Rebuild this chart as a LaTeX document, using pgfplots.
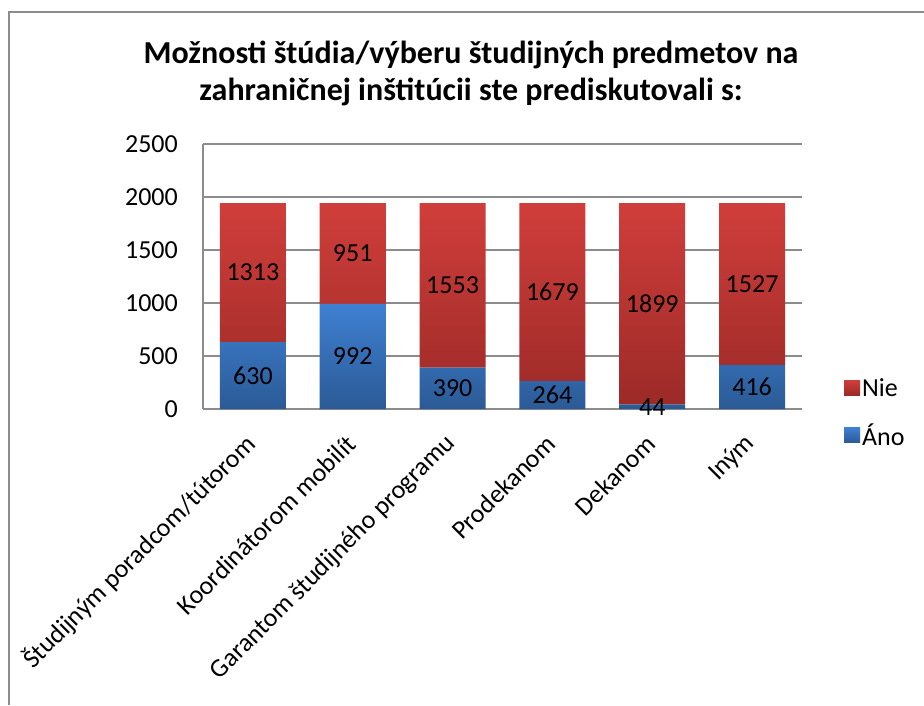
\documentclass[border=0pt]{standalone}
\usepackage{fontspec}
\setmainfont{Carlito}
\usepackage{pgfplots}
\pgfplotsset{compat=1.18}
\definecolor{redtop}{HTML}{D03E3B}
\definecolor{redbot}{HTML}{9C2A27}
\definecolor{bluetop}{HTML}{3F80D2}
\definecolor{bluebot}{HTML}{2B5A96}
\definecolor{gridgray}{HTML}{8C8C8C}
\begin{document}
\begin{tikzpicture}[x=1pt,y=1pt]
\useasboundingbox (0,0) rectangle (924,-705);
\draw[gridgray, line width=2pt] (9,-705) -- (9,-12) -- (924,-12);
\node[font=\fontsize{32}{37}\selectfont\bfseries, align=center, anchor=base] at (471,-100)
  {Možnosti štúdia/výberu študijných predmetov na\\zahraničnej inštitúcii ste prediskutovali s:};
\begin{axis}[
  at={(203pt,-409pt)}, anchor=south west,
  scale only axis, width=599pt, height=265pt,
  ybar stacked, bar width=66pt,
  xmin=-0.5, xmax=5.5, ymin=0, ymax=2500,
  xtick={0,...,5},
  xticklabels={Študijným poradcom/tútorom, Koordinátorom mobilít, Garantom študijného programu, Prodekanom, Dekanom, Iným},
  ytick={0,500,...,2500},
  ymajorgrids,
  grid style={draw=gridgray, line width=1.5pt},
  axis x line*=bottom, axis y line*=left,
  axis line style={draw=gridgray, line width=1.5pt},
  major tick length=0pt,
  /pgf/number format/assume math mode=true,
  /pgf/number format/1000 sep={},
  tick label style={font=\fontsize{26}{31}\selectfont, inner sep=0pt},
  yticklabel style={anchor=east, xshift=-25pt},
  xticklabel style={rotate=45, anchor=east, xshift=-22.6pt, yshift=-20.5pt},
  legend style={draw=none, fill=none, at={(1.07,-0.013)}, anchor=west,
    font=\fontsize{26}{31}\selectfont, row sep=22pt, inner sep=0pt,
    /tikz/every even column/.append style={column sep=10pt}},
  legend cell align=left,
  reverse legend,
]
\addplot[draw=none, top color=bluetop, bottom color=bluebot,
  legend image code/.code={\path[top color=bluetop, bottom color=bluebot] (0pt,-7.5pt) rectangle (16pt,7.5pt);}]
  coordinates {(0,630) (1,992) (2,390) (3,264) (4,44) (5,416)};
\addlegendentry{Áno}
\addplot[draw=none, top color=redtop, bottom color=redbot,
  legend image code/.code={\path[top color=redtop, bottom color=redbot] (0pt,-7.5pt) rectangle (16pt,7.5pt);}]
  coordinates {(0,1313) (1,951) (2,1553) (3,1679) (4,1899) (5,1527)};
\addlegendentry{Nie}
\end{axis}
\begin{axis}[
  at={(203pt,-409pt)}, anchor=south west,
  scale only axis, width=599pt, height=265pt,
  xmin=-0.5, xmax=5.5, ymin=0, ymax=2500,
  hide axis,
  /pgf/number format/assume math mode=true,
  /pgf/number format/1000 sep={},
]
\addplot[draw=none, mark=none, nodes near coords, point meta=explicit,
  every node near coord/.style={anchor=center, font=\fontsize{26}{31}\selectfont, black}]
  table[meta=v] {
x y v
0 315 630
1 496 992
2 195 390
3 132 264
4 22 44
5 208 416
};
\addplot[draw=none, mark=none, nodes near coords, point meta=explicit,
  every node near coord/.style={anchor=center, font=\fontsize{26}{31}\selectfont, black}]
  table[meta=v] {
x y v
0 1286.5 1313
1 1467.5 951
2 1166.5 1553
3 1103.5 1679
4 993.5 1899
5 1179.5 1527
};
\end{axis}
\end{tikzpicture}
\end{document}
